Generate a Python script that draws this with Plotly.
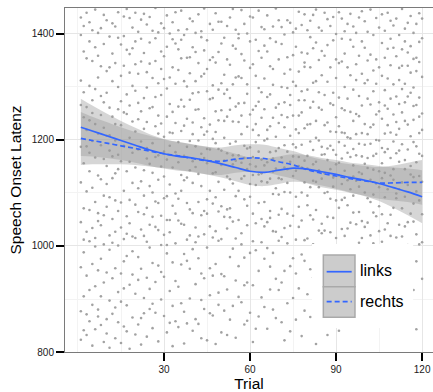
import plotly.graph_objects as go

# ---------------- data ----------------
trials = list(range(1, 121))

# speech onset latencies per trial (10 observations shown per trial)
latency_by_trial = [
    [1312, 877, 1045, 1398, 960, 1187, 1266, 823, 1120, 1431],
    [905, 1243, 1367, 1012, 841, 1156, 1290, 988, 1415, 1071],
    [1188, 832, 1354, 1027, 1262, 944, 1103, 1440, 871, 1219],
    [1009, 1386, 917, 1141, 1237, 858, 1302, 1068, 1176, 1422],
    [1275, 966, 1110, 1349, 812, 1034, 1198, 1407, 889, 1251],
    [843, 1167, 1296, 999, 1375, 1083, 924, 1230, 1446, 1015],
    [1359, 1062, 880, 1212, 1133, 954, 1318, 1402, 1047, 867],
    [1126, 1411, 976, 851, 1283, 1190, 1039, 1339, 905, 1247],
    [931, 1271, 1095, 1436, 1164, 819, 1003, 1223, 1381, 1058],
    [1208, 862, 1330, 1074, 950, 1289, 1151, 1426, 835, 1117],
    [1395, 1020, 1180, 897, 1261, 1337, 808, 1092, 1209, 993],
    [1051, 1244, 939, 1363, 1128, 872, 1420, 1169, 1006, 1311],
    [884, 1137, 1414, 1230, 1027, 958, 1345, 1199, 826, 1086],
    [1300, 1001, 1172, 856, 1393, 1066, 1258, 913, 1441, 1145],
    [1160, 1321, 948, 1082, 817, 1228, 1380, 1035, 1273, 895],
    [971, 1433, 1104, 1252, 1013, 1340, 848, 1189, 1396, 920],
    [1249, 888, 1056, 1370, 1141, 981, 1286, 1447, 1023, 839],
    [1087, 1204, 1327, 927, 1430, 806, 1159, 1043, 1265, 1362],
    [1373, 946, 1119, 1235, 865, 1302, 1018, 1412, 1176, 990],
    [1015, 1293, 833, 1148, 1386, 1078, 1216, 910, 1343, 1440],
    [1239, 1064, 1404, 979, 1182, 852, 1325, 1109, 936, 1270],
    [864, 1348, 1197, 1031, 1254, 1427, 957, 1122, 814, 1391],
    [1143, 1019, 1279, 902, 1364, 1095, 1221, 1438, 873, 1060],
    [1328, 1234, 940, 1418, 1072, 829, 1165, 1299, 1008, 1185],
    [997, 1155, 1384, 1113, 881, 1260, 1040, 1344, 1432, 919],
    [1262, 891, 1101, 1317, 1194, 968, 1406, 845, 1138, 1055],
    [1036, 1449, 1226, 874, 1349, 1084, 1168, 932, 1281, 1392],
    [1403, 1125, 963, 1212, 1030, 1307, 820, 1246, 1081, 1171],
    [951, 1285, 1057, 1367, 1150, 899, 1420, 1002, 1231, 1334],
    [1178, 868, 1315, 1090, 1411, 1206, 1021, 942, 1358, 1131],
    [1094, 1376, 1002, 1244, 837, 1163, 1297, 1435, 986, 1049],
    [1318, 1049, 1189, 915, 1268, 1401, 1116, 855, 1214, 1026],
    [887, 1213, 1422, 1076, 1337, 969, 1148, 1253, 811, 1390],
    [1232, 1099, 858, 1382, 1005, 1177, 1441, 1061, 1306, 934],
    [1048, 1332, 1158, 923, 1263, 1407, 1089, 847, 1196, 1371],
    [1389, 965, 1276, 1134, 1042, 1217, 892, 1354, 1104, 1444],
    [1124, 1263, 816, 1040, 1398, 1170, 1311, 985, 1227, 876],
    [972, 1409, 1081, 1301, 1187, 854, 1240, 1129, 1355, 1012],
    [1276, 1020, 1356, 1143, 901, 1429, 1069, 1198, 957, 1326],
    [1160, 840, 1233, 1375, 1062, 1119, 1288, 1424, 994, 1211],
    [1007, 1311, 1188, 928, 1402, 1035, 1257, 862, 1149, 1366],
    [1345, 1136, 977, 1258, 853, 1199, 1083, 1437, 1290, 1018],
    [898, 1224, 1394, 1058, 1174, 1320, 948, 1113, 1405, 826],
    [1210, 1066, 1325, 881, 1241, 1022, 1369, 1166, 939, 1448],
    [1061, 1388, 1156, 1292, 997, 1216, 822, 1334, 1088, 1183],
    [1419, 907, 1104, 1229, 1351, 1037, 1182, 958, 1277, 873],
    [1137, 1279, 944, 1408, 1080, 869, 1303, 1202, 1016, 1356],
    [1028, 1346, 1215, 1092, 1439, 966, 1139, 1254, 815, 1194],
    [1295, 912, 1065, 1183, 1366, 1121, 1010, 1423, 1237, 889],
    [1180, 1423, 837, 1307, 1013, 1256, 1153, 947, 1382, 1075],
    [943, 1161, 1287, 1055, 1393, 1204, 878, 1323, 1106, 1236],
    [1352, 1033, 1244, 918, 1175, 1415, 1069, 1295, 832, 1131],
    [1071, 1257, 1431, 1126, 979, 1342, 1193, 861, 1054, 1279],
    [1235, 887, 1118, 1378, 1046, 1171, 1305, 1447, 995, 1154],
    [1014, 1372, 1197, 935, 1263, 1094, 1408, 1161, 827, 1318],
    [1400, 1104, 962, 1234, 1320, 1049, 1171, 904, 1269, 1392],
    [1157, 1317, 1024, 1445, 894, 1211, 1127, 1362, 1003, 1246],
    [926, 1189, 1350, 1088, 1270, 1166, 1419, 978, 1132, 852],
    [1305, 1076, 1225, 859, 1401, 1145, 1039, 1287, 1184, 931],
    [1093, 1433, 987, 1186, 1117, 1336, 874, 1248, 1154, 1386],
    [1257, 1009, 1343, 1134, 926, 1219, 1061, 1431, 1168, 819],
    [844, 1196, 1115, 1264, 1389, 1043, 1321, 1150, 992, 1230],
    [1368, 1135, 1272, 953, 1178, 1444, 1081, 1209, 867, 1298],
    [1122, 1290, 903, 1355, 1051, 1137, 1242, 1413, 1007, 1163],
    [976, 1409, 1199, 1083, 1316, 885, 1152, 1258, 1037, 1378],
    [1281, 1045, 1158, 1367, 1219, 996, 1435, 1120, 844, 1202],
    [1066, 1226, 1339, 918, 1127, 1286, 1053, 1392, 1177, 961],
    [1334, 880, 1098, 1242, 1414, 1165, 987, 1304, 1140, 1028],
    [1179, 1385, 1027, 1146, 864, 1261, 1109, 1448, 1206, 938],
    [917, 1128, 1268, 1426, 1059, 1185, 1352, 1010, 1232, 1097],
    [1247, 1017, 1381, 1167, 931, 1300, 1126, 856, 1413, 1070],
    [1102, 1325, 953, 1224, 1148, 1399, 1034, 1271, 1190, 822],
    [1426, 1145, 1061, 1298, 892, 1178, 1243, 1005, 1356, 1119],
    [1038, 1266, 1208, 839, 1333, 1101, 1421, 962, 1159, 1285],
    [1192, 977, 1360, 1132, 1246, 1057, 902, 1310, 1403, 1169],
    [861, 1302, 1142, 1410, 1012, 1220, 1093, 1376, 1186, 948],
    [1275, 1151, 1036, 1246, 1442, 920, 1168, 1329, 1074, 1213],
    [1148, 1417, 1252, 984, 1101, 1365, 830, 1191, 1292, 1048],
    [1011, 1222, 1346, 1161, 878, 1275, 1120, 1437, 972, 1338],
    [1363, 1077, 1170, 1295, 1014, 1407, 1146, 909, 1229, 1095],
    [1230, 956, 1394, 1111, 1337, 866, 1197, 1058, 1261, 1425],
    [1050, 1272, 1181, 1436, 1003, 1154, 1308, 941, 1123, 1373],
    [1311, 1121, 897, 1236, 1384, 1068, 1159, 1446, 815, 1204],
    [939, 1351, 1143, 1029, 1261, 1199, 980, 1412, 1111, 1290],
    [1187, 1042, 1406, 1257, 1127, 870, 1322, 1172, 1024, 1368],
    [1100, 1285, 964, 1173, 1359, 1029, 1228, 1440, 895, 1137],
    [1428, 1184, 1055, 1310, 914, 1233, 1102, 1379, 1162, 832],
    [1026, 1337, 1216, 1089, 1415, 1145, 854, 1269, 1000, 1189],
    [1266, 908, 1129, 1388, 1053, 1289, 1181, 961, 1432, 1112],
    [1154, 1400, 1015, 1243, 1172, 887, 1352, 1086, 1215, 1317],
    [990, 1226, 1345, 1133, 1441, 1072, 1196, 840, 1280, 1157],
    [1348, 1087, 1260, 944, 1165, 1391, 1032, 1214, 1117, 1429],
    [1213, 1363, 1091, 1189, 868, 1300, 1142, 1019, 1405, 1256],
    [1077, 1176, 1419, 1033, 1278, 1124, 935, 1337, 1205, 898],
    [1389, 1044, 1203, 1322, 1107, 1438, 988, 1168, 1253, 849],
    [1131, 1295, 970, 1152, 1376, 1063, 1236, 1414, 1095, 1183],
    [962, 1249, 1123, 1402, 1041, 1313, 1171, 889, 1343, 1211],
    [1283, 1112, 1359, 1006, 1193, 1245, 1431, 927, 1139, 1064],
    [1169, 1386, 1047, 1265, 892, 1136, 1325, 1213, 1015, 1443],
    [1036, 1230, 1307, 1155, 1424, 980, 1101, 1374, 860, 1191],
    [1404, 1147, 936, 1278, 1090, 1211, 1350, 1044, 1166, 1313],
    [1224, 1020, 1193, 1361, 957, 1125, 1446, 1267, 1083, 880],
    [1097, 1331, 1170, 1063, 1292, 1398, 1005, 1229, 1144, 945],
    [1352, 985, 1248, 1118, 1430, 1174, 871, 1306, 1056, 1200],
    [1141, 1271, 1075, 1412, 1199, 929, 1337, 1111, 1254, 1028],
    [1008, 1383, 1156, 1240, 1060, 1321, 1185, 855, 1437, 1128],
    [1294, 1092, 1355, 968, 1212, 1138, 1406, 1031, 1265, 1177],
    [1183, 1440, 1043, 1316, 1107, 896, 1228, 1372, 995, 1259],
    [1059, 1214, 1391, 1133, 1278, 1019, 1166, 1341, 913, 1425],
    [1416, 1125, 981, 1305, 1197, 1072, 1374, 1248, 1145, 866],
    [1234, 1358, 1099, 1175, 1016, 1282, 1429, 949, 1210, 1090],
    [1107, 1268, 1336, 1040, 1398, 1159, 876, 1221, 1313, 1180],
    [1371, 1018, 1192, 1252, 1120, 1447, 1071, 1296, 990, 1340],
    [1162, 1306, 947, 1386, 1093, 1236, 1145, 1410, 1037, 1271],
    [1045, 1421, 1229, 1115, 1340, 1002, 1282, 858, 1182, 1365],
    [1289, 1135, 1377, 983, 1207, 1434, 1061, 1327, 1151, 904],
    [1196, 1046, 1264, 1353, 1130, 1402, 917, 1238, 1080, 1299],
    [971, 1330, 1158, 1419, 1022, 1188, 1355, 1103, 1266, 843],
    [1347, 1213, 1086, 1280, 1439, 1132, 1003, 1385, 1244, 1174],
    [1121, 1392, 1250, 1007, 1319, 1170, 1429, 938, 1219, 1060],
]

# loess fits with standard-error half widths
fit_trial = [1, 5, 10, 15, 20, 25, 30, 35, 40, 45, 50, 55, 60, 65, 70, 75,
             80, 85, 90, 95, 100, 105, 110, 115, 120]
links_fit = [1224, 1217, 1208, 1199, 1190, 1181, 1174, 1169, 1166, 1161, 1155,
             1148, 1141, 1139, 1143, 1147, 1145, 1140, 1135, 1129, 1124, 1118,
             1110, 1102, 1093]
links_se = [54, 48, 42, 37, 33, 30, 28, 27, 26, 26, 26, 26, 26, 26, 26, 26,
            26, 26, 27, 28, 30, 33, 38, 44, 50]
rechts_fit = [1203, 1199, 1194, 1189, 1184, 1179, 1174, 1170, 1165, 1161, 1160,
              1164, 1166, 1165, 1159, 1153, 1144, 1137, 1132, 1127, 1123, 1119,
              1119, 1120, 1120]
rechts_se = [50, 45, 40, 35, 31, 29, 27, 26, 26, 26, 26, 26, 26, 26, 26, 26,
             26, 26, 26, 27, 28, 30, 33, 37, 42]

series_names = ["links", "rechts"]
y_ticks = [800, 1000, 1200, 1400]
x_ticks = [30, 60, 90, 120]

# ---------------- figure ----------------
pt_x, pt_y = [], []
for t, vals in zip(trials, latency_by_trial):
    for v in vals:
        pt_x.append(t)
        pt_y.append(v)

BLUE = "#3366FF"
RIB = "rgba(153,153,153,0.4)"
FONT = "Liberation Sans, Arial, sans-serif"

fig = go.Figure()
fig.add_trace(go.Scatter(x=pt_x, y=pt_y, mode="markers",
                         marker=dict(size=2.6, color="#a2a2a2", line=dict(width=0)),
                         showlegend=False, hoverinfo="skip"))

fits = [(links_fit, links_se, "solid"), (rechts_fit, rechts_se, "5px,3px")]
for fit, se, dash in fits:
    upper = [m + s for m, s in zip(fit, se)]
    lower = [m - s for m, s in zip(fit, se)]
    fig.add_trace(go.Scatter(x=fit_trial, y=upper, mode="lines", line=dict(width=0, shape="spline"),
                             showlegend=False, hoverinfo="skip"))
    fig.add_trace(go.Scatter(x=fit_trial, y=lower, mode="lines", line=dict(width=0, shape="spline"),
                             fill="tonexty", fillcolor=RIB, showlegend=False, hoverinfo="skip"))
for (fit, se, dash), name in zip(fits, series_names):
    fig.add_trace(go.Scatter(x=fit_trial, y=fit, mode="lines", name=name,
                             line=dict(color=BLUE, width=1.7, dash=dash, shape="spline"),
                             showlegend=False))

# custom ggplot-like legend (paper coordinates)
shapes = [
    dict(type="rect", xref="paper", yref="paper", x0=0.671, x1=0.946, y0=0.070, y1=0.314,
         fillcolor="white", line=dict(width=0), layer="above"),
    dict(type="rect", xref="paper", yref="paper", x0=0.702, x1=0.788, y0=0.190, y1=0.282,
         fillcolor="#cccccc", line=dict(color="#a9a9a9", width=1.5), layer="above"),
    dict(type="rect", xref="paper", yref="paper", x0=0.702, x1=0.788, y0=0.101, y1=0.190,
         fillcolor="#cccccc", line=dict(color="#a9a9a9", width=1.5), layer="above"),
    dict(type="line", xref="paper", yref="paper", x0=0.711, x1=0.779, y0=0.2334, y1=0.2334,
         line=dict(color=BLUE, width=1.7), layer="above"),
    dict(type="line", xref="paper", yref="paper", x0=0.711, x1=0.779, y0=0.1462, y1=0.1462,
         line=dict(color=BLUE, width=1.7, dash="5px,3px"), layer="above"),
]
annotations = [
    dict(text=series_names[0], xref="paper", yref="paper", x=0.796, y=0.2355, xanchor="left",
         yanchor="middle", showarrow=False, font=dict(family=FONT, size=16, color="black")),
    dict(text=series_names[1], xref="paper", yref="paper", x=0.796, y=0.148, xanchor="left",
         yanchor="middle", showarrow=False, font=dict(family=FONT, size=16, color="black")),
]

fig.update_layout(
    width=433, height=392,
    margin=dict(l=65, r=0, t=8, b=40),
    paper_bgcolor="white", plot_bgcolor="white",
    font=dict(family=FONT, color="black"),
    shapes=shapes, annotations=annotations,
    showlegend=False,
)
fig.update_xaxes(
    range=[-4.53, 123.8], tickvals=x_ticks, ticktext=[str(v) for v in x_ticks],
    showgrid=True, gridcolor="#e6e6e6", gridwidth=1,
    minor=dict(tickvals=[0, 15, 45, 75, 105], showgrid=True, gridcolor="#f3f3f3", gridwidth=1, ticks=""),
    showline=True, linecolor="#7a7a7a", linewidth=1, mirror=True,
    ticks="outside", ticklen=8, tickwidth=2, tickcolor="black",
    tickfont=dict(size=10, color="#1a1a1a"), zeroline=False,
    title=dict(text="Trial", font=dict(size=15.5, color="black"), standoff=4),
)
fig.update_yaxes(
    range=[800, 1449], tickvals=y_ticks, ticktext=[str(v) for v in y_ticks],
    showgrid=True, gridcolor="#e6e6e6", gridwidth=1,
    minor=dict(tickvals=[900, 1100, 1300], showgrid=True, gridcolor="#f3f3f3", gridwidth=1, ticks=""),
    showline=True, linecolor="#7a7a7a", linewidth=1,
    ticks="outside", ticklen=8, tickwidth=2, tickcolor="black",
    tickfont=dict(size=10, color="#1a1a1a"), zeroline=False,
    title=dict(text="Speech Onset Latenz", font=dict(size=15.5, color="black"), standoff=6),
)

fig.write_html("out.html")
